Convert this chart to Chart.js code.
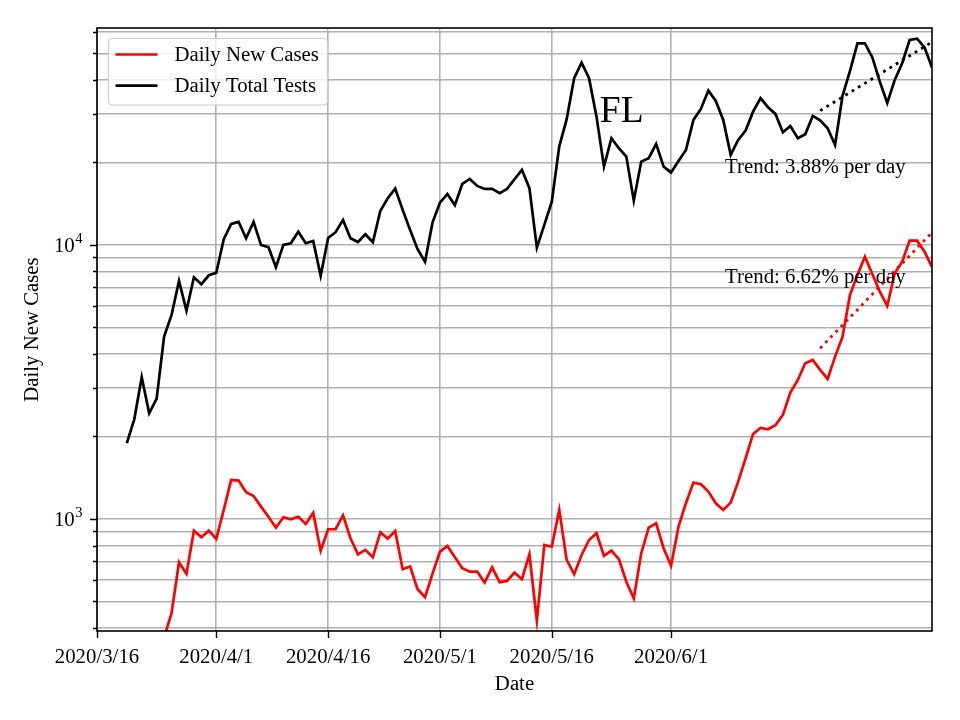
<!DOCTYPE html>
<html>
<head>
<meta charset="utf-8">
<title>FL</title>
<script src="https://cdn.jsdelivr.net/npm/chart.js@4.4.1/dist/chart.umd.min.js"></script>
<style>
  html, body { margin: 0; padding: 0; background: #fff; }
</style>
</head>
<body>
<canvas id="flChart" width="960" height="720"></canvas>
<script>
// x axis is "days since 2020/3/16"
const tickDays = [0, 16, 31, 46, 61, 77];
const tickLabels = ["2020/3/16", "2020/4/1", "2020/4/16", "2020/5/1", "2020/5/16", "2020/6/1"];
const lastDay = 112;

const yTicks = [400, 500, 600, 700, 800, 900, 1000, 2000, 3000, 4000, 5000, 6000, 7000, 8000, 9000,
  10000, 20000, 30000, 40000, 50000, 60000];
const yMajor = [1000, 10000];

// daily total tests, one value per day starting 2020/3/20
const testsStartDay = 4;
const totalTests = [
  1890, 2310, 3290, 2430, 2750, 4630, 5550, 7390, 5760, 7620, 7190, 7750, 7920,
  10490, 11930, 12130, 10580, 12130, 10000, 9810, 8290, 10000, 10140, 11180, 10140, 10340, 7710,
  10600, 11130, 12340, 10580, 10250, 10940, 10230, 13310, 14810, 16050, 13420, 11340, 9650, 8690,
  12060, 14270, 15350, 13960, 16700, 17410, 16420, 16010, 16010, 15440, 16010, 17370, 18780, 16110,
  9780, 11830, 14390, 22850, 28760, 40590, 46280, 40590, 29390, 19310, 24520, 22540, 21010, 14510,
  20140, 20720, 23370, 19310, 18390, 20260, 22220, 28590, 31360, 36570, 33540, 28590, 21310, 24170,
  26140, 30650, 34310, 31810, 30080, 25790, 27180, 24520, 25350, 29580, 28470, 26660, 23170, 34990,
  43150, 54390, 54390, 48340, 39450, 32980, 40010, 46050, 56010, 56620, 52580, 44440
];

// daily new cases, one value per day starting 2020/3/25
const casesStartDay = 9;
const newCases = [
  370, 453, 695, 630, 906, 858, 906, 845, 1079, 1388, 1380, 1252, 1213, 1109, 1019, 929, 1014,
  997, 1019, 959, 1054, 766, 917, 917, 1031, 850, 743, 771, 725, 894, 848, 904, 655, 670, 554,
  518, 630, 760, 797, 725, 661, 642, 642, 586, 666, 588, 594, 637, 603, 743, 426, 804, 792, 1079,
  709, 628, 739, 838, 887, 733, 766, 713, 590, 513, 750, 929, 964, 782, 675, 937, 1144, 1357,
  1338, 1258, 1141, 1079, 1147, 1368, 1665, 2043, 2148, 2125, 2198, 2397, 2891, 3216, 3700, 3804,
  3498, 3243, 3911, 4628, 6570, 7772, 9064, 7838, 6752, 5990, 7884, 8692, 10368, 10368, 9452, 8290
];

// fitted trend lines (start and end of the last two weeks)
const trendDays = [97, 112];
const testsTrend = [30900, 55000];
const casesTrend = [4200, 11100];

const SERIF = '"Liberation Serif", "Times New Roman", serif';
const FS = 20.8;

function toPoints(values, start) {
  return values.map((v, i) => ({ x: start + i, y: v }));
}

const decorations = {
  id: "decorations",
  afterDatasetsDraw(chart) {
    const { ctx, chartArea: a, scales: { x, y } } = chart;
    ctx.save();

    // spines
    ctx.strokeStyle = "#000";
    ctx.lineWidth = 1.6;
    ctx.strokeRect(a.left, a.top, a.right - a.left, a.bottom - a.top);

    // tick marks
    ctx.beginPath();
    tickDays.forEach((d) => {
      const px = Math.round(x.getPixelForValue(d)) + 0.5;
      ctx.moveTo(px, a.bottom);
      ctx.lineTo(px, a.bottom + 7);
    });
    yTicks.forEach((v) => {
      const py = Math.round(y.getPixelForValue(v)) + 0.5;
      const len = yMajor.includes(v) ? 7 : 4;
      ctx.moveTo(a.left, py);
      ctx.lineTo(a.left - len, py);
    });
    ctx.lineWidth = 1.4;
    ctx.stroke();

    // y tick labels 10^n
    ctx.fillStyle = "#000";
    yMajor.forEach((v) => {
      const py = y.getPixelForValue(v);
      const exp = String(Math.round(Math.log10(v)));
      ctx.font = `${FS * 0.7}px ${SERIF}`;
      const ew = ctx.measureText(exp).width;
      const right = a.left - 14.5;
      ctx.textAlign = "left";
      ctx.textBaseline = "alphabetic";
      ctx.fillText(exp, right - ew, py - 2);
      ctx.font = `${FS}px ${SERIF}`;
      ctx.textAlign = "right";
      ctx.fillText("10", right - ew - 0.5, py + 7);
    });

    // annotations
    ctx.textAlign = "left";
    ctx.textBaseline = "alphabetic";
    ctx.font = `37.5px ${SERIF}`;
    ctx.fillText("FL", x.getPixelForValue(67.45), y.getPixelForValue(28100));
    ctx.font = `${FS}px ${SERIF}`;
    ctx.fillText("Trend: 3.88% per day", x.getPixelForValue(84.25), y.getPixelForValue(18300));
    ctx.fillText("Trend: 6.62% per day", x.getPixelForValue(84.25), y.getPixelForValue(7250));

    // legend
    const lx = a.left + 11.5, ly = a.top + 10.5, lw = 219, lh = 66.5;
    ctx.beginPath();
    ctx.roundRect(lx, ly, lw, lh, 4);
    ctx.fillStyle = "rgba(255,255,255,0.8)";
    ctx.fill();
    ctx.strokeStyle = "#cccccc";
    ctx.lineWidth = 1.2;
    ctx.stroke();
    const items = chart.data.datasets.filter((ds) => ds.inLegend);
    items.forEach((ds, i) => {
      const rowY = ly + 16 + i * 31.2;
      ctx.beginPath();
      ctx.moveTo(lx + 7, rowY);
      ctx.lineTo(lx + 49, rowY);
      ctx.strokeStyle = ds.borderColor;
      ctx.lineWidth = 2.7;
      ctx.stroke();
      ctx.fillStyle = "#000";
      ctx.font = `${FS}px ${SERIF}`;
      ctx.textBaseline = "middle";
      ctx.fillText(ds.label, lx + 66, rowY + 1);
    });
    ctx.restore();
  }
};

const ctx = document.getElementById("flChart").getContext("2d");

new Chart(ctx, {
  type: "line",
  data: {
    datasets: [
      {
        label: "Daily New Cases",
        inLegend: true,
        data: toPoints(newCases, casesStartDay),
        borderColor: "#ff0000",
        borderWidth: 2.7,
        pointRadius: 0,
        tension: 0,
      },
      {
        label: "Daily Total Tests",
        inLegend: true,
        data: toPoints(totalTests, testsStartDay),
        borderColor: "#000000",
        borderWidth: 2.7,
        pointRadius: 0,
        tension: 0,
      },
      {
        label: "Cases trend",
        data: trendDays.map((d, i) => ({ x: d, y: casesTrend[i] })),
        borderColor: "#ff0000",
        borderWidth: 2.8,
        borderDash: [2.8, 4.6],
        pointRadius: 0,
      },
      {
        label: "Tests trend",
        data: trendDays.map((d, i) => ({ x: d, y: testsTrend[i] })),
        borderColor: "#000000",
        borderWidth: 2.8,
        borderDash: [2.8, 4.6],
        pointRadius: 0,
      },
    ],
  },
  options: {
    responsive: false,
    animation: false,
    layout: { padding: { top: 28, right: 28, left: 0, bottom: 0 } },
    plugins: {
      legend: { display: false },
      tooltip: { enabled: false },
    },
    scales: {
      x: {
        type: "linear",
        min: 0,
        max: lastDay,
        afterBuildTicks: (scale) => {
          scale.ticks = tickDays.map((d) => ({ value: d }));
        },
        afterFit: (scale) => { scale.height = 89; },
        ticks: {
          autoSkip: false,
          maxRotation: 0,
          padding: 14,
          color: "#000",
          font: { family: SERIF, size: FS },
          callback: (v) => tickLabels[tickDays.indexOf(v)],
        },
        grid: { color: "#b0b0b0", lineWidth: 1.6, drawTicks: false },
        border: { display: false },
        title: {
          display: true,
          text: "Date",
          color: "#000",
          font: { family: SERIF, size: FS },
          padding: { top: 0, bottom: 23 },
        },
      },
      y: {
        type: "logarithmic",
        min: 390,
        max: 61900,
        afterBuildTicks: (scale) => {
          scale.ticks = yTicks.map((v) => ({ value: v }));
        },
        afterFit: (scale) => { scale.width = 97; },
        ticks: { display: false },
        grid: { color: "#b0b0b0", lineWidth: 1.6, drawTicks: false },
        border: { display: false },
        title: {
          display: true,
          text: "Daily New Cases",
          color: "#000",
          font: { family: SERIF, size: FS },
          padding: { top: 20, bottom: 0 },
        },
      },
    },
  },
  plugins: [decorations],
});
</script>
</body>
</html>
